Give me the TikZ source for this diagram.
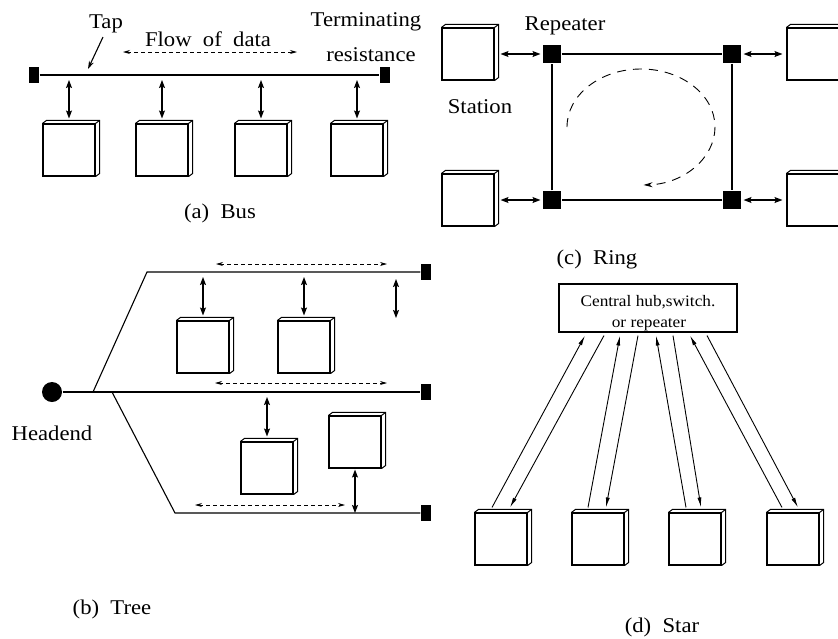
\documentclass[tikz,border=0pt]{standalone}
\usepackage{fontspec}
\setmainfont{Liberation Serif}[FakeStretch=1.08]
\usetikzlibrary{arrows.meta,calc}

% a station drawn as a slightly raised box
\newcommand\stationbox[2]{%
  \node[stbox] (#1) at (#2) {};
  \draw[thin3d] (#1.north west) -- ++(4,-3) -| ([shift={(4,-3)}]#1.south east) -- (#1.south east)
    (#1.north east) -- ++(4,-3);}

\begin{document}
\begin{tikzpicture}[x=1pt,y=-1pt,line width=1.1pt,
  lbl/.style={font=\fontsize{21}{25}\selectfont, inner sep=0pt, anchor=base},
  hubtxt/.style={font=\fontsize{16}{20}\selectfont, inner sep=0pt, anchor=base},
  stbox/.style={draw, fill=white, minimum width=52pt, minimum height=52pt, inner sep=0pt},
  thin3d/.style={line width=1pt},
  term/.style={fill=black, inner sep=0pt, minimum width=10pt, minimum height=16pt},
  rep/.style={fill=black, inner sep=0pt, minimum size=18pt},
  link/.style={{Stealth[length=8pt,width=6pt,inset=1.5pt]}-{Stealth[length=8pt,width=6pt,inset=1.5pt]}},
  flow/.style={line width=0.8pt, dash pattern=on 4pt off 3pt,
    {Stealth[length=7pt,width=4pt]}-{Stealth[length=7pt,width=4pt]}},
  one/.style={line width=0.9pt, -{Latex[length=10pt,width=4pt]}},
]
\useasboundingbox (0,0) rectangle (838,638);
\clip (0,0) rectangle (838,638);

% ---------------- (a) Bus ----------------
\node[term] (tl) at (34,75) {};
\node[term] (tr) at (385,75) {};
\draw (tl) -- (tr);
\stationbox{b1}{69,150}
\stationbox{b2}{162,150}
\stationbox{b3}{261,150}
\stationbox{b4}{357,150}
\foreach \s in {b1,b2,b3,b4}
  \draw[link] ($(\s.north |- tl.center)+(0,5)$) -- ($(\s.north)+(0,-5)$);
\node[lbl] (lbtap) at (106,28) {Tap};
\coordinate (tapon) at (88,69);
\draw[-{Stealth[length=8pt,width=5pt]}] ($(lbtap.south)+(-3,4)$) -- (tapon);
\node[lbl] (lbflow) at (208,46) {Flow\ \ of\ \ data};
\coordinate (fa) at (123,52);
\coordinate (fb) at (297,52);
\draw[flow] (fa) -- (fb);
\node[lbl] (lbterm1) at (366,26) {Terminating};
\node[lbl] (lbterm2) at (371,61) {resistance};
\node[lbl] (capa) at (220,218) {(a)\ \ Bus};

% ---------------- (b) Tree ----------------
\node[circle, fill=black, minimum size=20pt, inner sep=0pt] (head) at (52,392) {};
\node[term] (tu) at (426,272) {};
\node[term] (tm) at (426,392) {};
\node[term] (tb) at (426,513) {};
\coordinate (j1) at (93,392);
\coordinate (j2) at (112,392);
\coordinate (u0) at (147,272);
\coordinate (l0) at (175,513);
\draw (head) -- (tm);
\draw (j1) -- (u0) -- (tu);
\draw (j2) -- (l0) -- (tb);
\coordinate (fu1) at (216,264); \coordinate (fu2) at (387,264);
\coordinate (fm1) at (215,383); \coordinate (fm2) at (387,383);
\coordinate (fl1) at (195,505); \coordinate (fl2) at (345,505);
\draw[flow] (fu1) -- (fu2);
\draw[flow] (fm1) -- (fm2);
\draw[flow] (fl1) -- (fl2);
\stationbox{t1}{203,347}
\stationbox{t2}{304,347}
\stationbox{t3}{267,468}
\stationbox{t4}{355,442}
\draw[link] ($(t1.north |- tu.center)+(0,5)$) -- ($(t1.north)+(0,-5)$);
\draw[link] ($(t2.north |- tu.center)+(0,5)$) -- ($(t2.north)+(0,-5)$);
\draw[link] ($(t3.north |- tm.center)+(0,5)$) -- ($(t3.north)+(0,-5)$);
\draw[link] ($(t4.south)+(0,1)$) -- (t4.south |- tb.center);
\coordinate (fr1) at (396,279); \coordinate (fr2) at (396,318);
\draw[link] (fr1) -- (fr2);
\node[lbl] (lbhead) at (52,440) {Headend};
\node[lbl] (capb) at (112,614) {(b)\ \ Tree};

% ---------------- (c) Ring ----------------
\node[rep] (r1) at (552,54) {};
\node[rep] (r2) at (732,54) {};
\node[rep] (r3) at (552,200) {};
\node[rep] (r4) at (732,200) {};
\draw (r1) -- (r2) -- (r4) -- (r3) -- (r1);
\stationbox{s1}{468,54}
\stationbox{s3}{468,200}
\stationbox{s2}{813,54}
\stationbox{s4}{813,200}
\draw[link] ($(s1.east)+(6,0)$) -- ($(r1.west)+(-2,0)$);
\draw[link] ($(s3.east)+(6,0)$) -- ($(r3.west)+(-2,0)$);
\draw[link] ($(r2.east)+(2,0)$) -- ($(s2.west)+(-4,0)$);
\draw[link] ($(r4.east)+(2,0)$) -- ($(s4.west)+(-4,0)$);
\coordinate (loopc) at (641,127);
\draw[line width=0.9pt, dash pattern=on 9pt off 7pt, -{Stealth[length=9pt,width=5pt]}]
  ($(loopc)+(-74,0)$) arc[start angle=180, end angle=448, x radius=74, y radius=58];
\node[lbl] (lbrep) at (565,30) {Repeater};
\node[lbl] (lbst) at (480,113) {Station};
\node[lbl] (capc) at (597,264) {(c)\ \ Ring};

% ---------------- (d) Star ----------------
\node[draw, minimum width=178pt, minimum height=48pt, inner sep=0pt] (hub) at (648,308) {};
\node[hubtxt] (hubt1) at (648,306) {Central hub,switch.};
\node[hubtxt] (hubt2) at (649,327) {or repeater};
\stationbox{d1}{501,539}
\stationbox{d2}{598,539}
\stationbox{d3}{695,539}
\stationbox{d4}{793,539}
\draw[one] ($(d1.north)+(-9,-5)$) -- ($(hub.south)+(-63,3)$);
\draw[one] ($(hub.south)+(-44,3)$) -- ($(d1.north)+(9,-5)$);
\draw[one] ($(d2.north)+(-10,-5)$) -- ($(hub.south)+(-28,3)$);
\draw[one] ($(hub.south)+(-10,3)$) -- ($(d2.north)+(8,-5)$);
\draw[one] ($(d3.north)+(-9,-5)$) -- ($(hub.south)+(8,3)$);
\draw[one] ($(hub.south)+(25,3)$) -- ($(d3.north)+(6,-5)$);
\draw[one] ($(d4.north)+(-11,-5)$) -- ($(hub.south)+(42,3)$);
\draw[one] ($(hub.south)+(59,3)$) -- ($(d4.north)+(5,-5)$);
\node[lbl] (capd) at (662,632) {(d)\ \ Star};
\end{tikzpicture}
\end{document}
